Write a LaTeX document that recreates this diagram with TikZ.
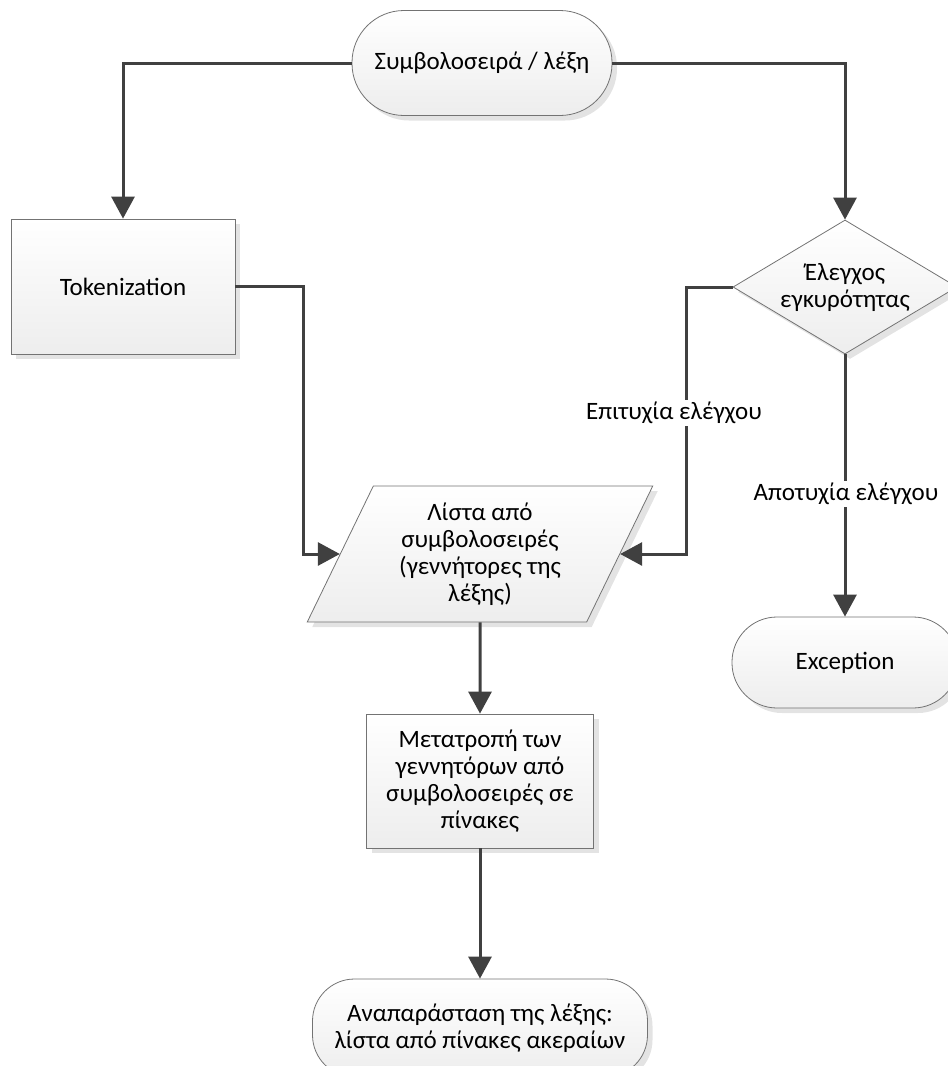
\documentclass[tikz,border=0pt]{standalone}
\usepackage{fontspec}
\setmainfont{Carlito}
\usetikzlibrary{shapes.geometric,arrows.meta,shadows,calc}
\begin{document}
\begin{tikzpicture}[x=1pt,y=-1pt,
  txt/.style={font=\fontsize{25}{27}\selectfont, align=center},
  base/.style={txt, draw=black!55, line width=0.8pt, top color=white, bottom color=black!7,
    drop shadow={shadow xshift=5pt, shadow yshift=-5pt, fill=black!18, opacity=0.6}, inner sep=0pt},
  term/.style={base, rectangle, rounded corners=#1},
  procbox/.style={base, rectangle},
  decision/.style={base, diamond, aspect=1.67},
  io/.style={base, trapezium, trapezium left angle=64, trapezium right angle=116, trapezium stretches=true},
  conn/.style={draw=black!75, line width=3pt, -{Triangle[length=22pt,width=23pt]}},
  lbl/.style={txt, fill=white, inner sep=2pt}
]
\useasboundingbox (0,0) rectangle (948,1066);

\node[term=52pt, minimum width=260pt, minimum height=105pt] (top) at (482,63) {Συμβολοσειρά / λέξη};
\node[procbox, minimum width=224pt, minimum height=135pt] (tok) at (123,286.5) {Tokenization};
\node[decision, minimum width=224pt, minimum height=134pt] (dia) at (845,287) {Έλεγχος\\εγκυρότητας};
\node[io, minimum width=346pt, minimum height=136pt] (lista) at (480,554) {Λίστα από\\συμβολοσειρές\\(γεννήτορες της\\λέξης)};
\node[procbox, minimum width=227pt, minimum height=134pt] (proc) at (480,781) {Μετατροπή των\\γεννητόρων από\\συμβολοσειρές σε\\πίνακες};
\node[term=45pt, minimum width=226pt, minimum height=91pt] (exc) at (845,662.5) {Exception};
\node[term=42pt, minimum width=335pt, minimum height=98pt] (bot) at (480,1028) {Αναπαράσταση της λέξης:\\λίστα από πίνακες ακεραίων};

\draw[conn] (top.west) -| (tok.north);
\draw[conn] (top.east) -| (dia.north);
\draw[conn] (tok.east) -- ++(68,0) |- (lista.left side);
\draw[conn] (dia.west) -- ++(-46,0) |- (lista.right side);
\draw[conn] (dia.south) -- (exc.north);
\draw[conn] (lista) -- (proc);
\draw[conn] (proc) -- (bot);

\node[lbl] (ok) at (674,413) {Επιτυχία ελέγχου};
\node[lbl] (fail) at (846,494) {Αποτυχία ελέγχου};
\end{tikzpicture}
\end{document}
